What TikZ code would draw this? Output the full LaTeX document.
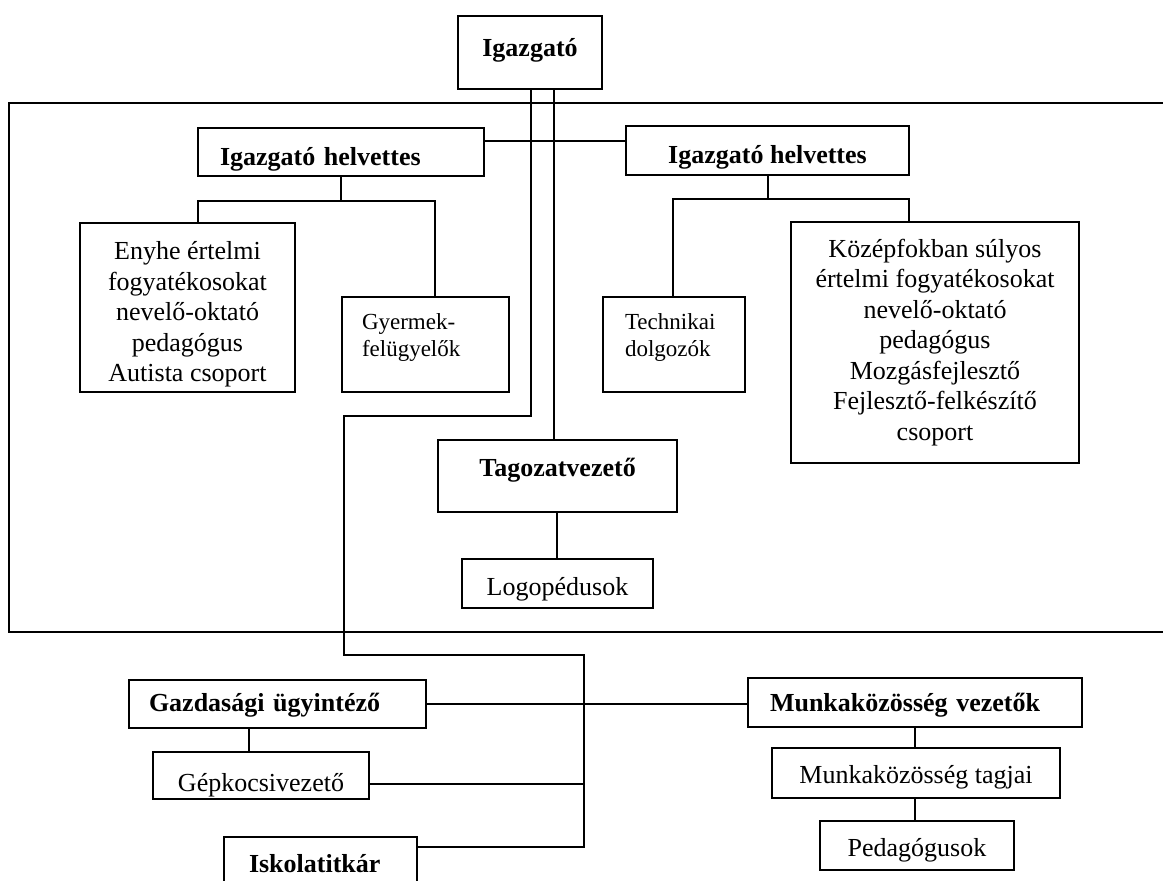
\documentclass[tikz,border=0pt]{standalone}
\usepackage{fontspec}
\setmainfont{Liberation Serif}
\begin{document}
\begin{tikzpicture}[x=1pt,y=-1pt,
  ln/.style={line width=1.4pt},
  bx/.style={draw, line width=1.4pt, inner sep=0pt, font=\fontsize{26}{30.5}\selectfont},
  bxb/.style={bx, font=\fontsize{26}{30.5}\selectfont\bfseries},
  bxs/.style={bx, font=\fontsize{23}{27}\selectfont},
]
\useasboundingbox (0,0) rectangle (1163,881);
\clip (0,0) rectangle (1163,881);

% frame
\coordinate (fa) at (9,103);
\coordinate (fb) at (1163,103);
\coordinate (fc) at (9,632);
\coordinate (fd) at (1163,632);
\draw[ln] (fb) -- (fa) -- (fc) -- (fd);

% boxes
\node[bxb, minimum width=144pt, minimum height=73pt, text height=18pt, text depth=10pt] (ig) at (530,52.5) {Igazgató};
\node[bxb, minimum width=286pt, minimum height=48pt, text width=242pt, align=left, text height=32pt, text depth=5pt] (ihl) at (341,152) {Igazgató helvettes};
\node[bxb, minimum width=283pt, minimum height=49pt, text height=31pt, text depth=5pt] (ihr) at (767.5,150.5) {Igazgató helvettes};
\node[bx, minimum width=215pt, minimum height=169pt, align=center] (enyhe) at (187.5,307.5) {\rule{0pt}{32pt}Enyhe értelmi\\fogyatékosokat\\nevelő-oktató\\pedagógus\\Autista csoport};
\node[bxs, minimum width=167pt, minimum height=95pt, text width=127pt, align=left] (gyer) at (425.5,344.5) {Gyermek-\\felügyelők\rule[-19pt]{0pt}{0pt}};
\node[bxs, minimum width=142pt, minimum height=95pt, text width=98pt, align=left] (tech) at (674,344.5) {Technikai\\dolgozók\rule[-18pt]{0pt}{0pt}};
\node[bx, minimum width=288pt, minimum height=241pt, align=center] (kozep) at (935,342.5) {Középfokban súlyos\\értelmi fogyatékosokat\\nevelő-oktató\\pedagógus\\Mozgásfejlesztő\\Fejlesztő-felkészítő\\csoport};
\node[bxb, minimum width=239pt, minimum height=72pt, text height=18pt, text depth=17pt] (tag) at (557.5,476) {Tagozatvezető};
\node[bx, minimum width=191pt, minimum height=49pt, text height=30pt, text depth=6pt] (logo) at (557.5,583.5) {Logopédusok};
\node[bxb, minimum width=297pt, minimum height=48pt, text width=257pt, align=left, text height=21pt, text depth=6pt] (gazd) at (277.5,704) {Gazdasági ügyintéző};
\node[bx, minimum width=216pt, minimum height=47pt, text height=37pt, text depth=5pt] (gep) at (261,775.5) {Gépkocsivezető};
\node[bxb, minimum width=193pt, minimum height=58pt, text width=143pt, align=left, text height=19pt, text depth=6pt] (isk) at (320.5,866) {Iskolatitkár};
\node[bxb, minimum width=334pt, minimum height=49pt, text width=290pt, align=left, text height=24pt, text depth=6pt] (mv) at (915,702.5) {Munkaközösség vezetők};
\node[bx, minimum width=288pt, minimum height=50pt, text height=27pt, text depth=6pt] (mt) at (916,773) {Munkaközösség tagjai};
\node[bx, minimum width=194pt, minimum height=49pt, text height=28pt, text depth=6pt] (ped) at (917,845.5) {Pedagógusok};

% helper coordinates
\coordinate (v1) at (531,0);
\coordinate (v2) at (554,0);
\coordinate (h1) at (0,141);
\coordinate (j1) at (344,416);
\coordinate (j2) at (584,655);
\coordinate (j3) at (584,847);
\coordinate (g1) at (0,784);
\coordinate (bl) at (198,201);
\coordinate (br) at (435,201);
\coordinate (cl) at (673,199);
\coordinate (cr) at (909,199);
\coordinate (cx) at (768,0);
\coordinate (tx) at (557,0);
\coordinate (gx) at (249,0);
\coordinate (mx) at (915,0);

% connectors
\draw[ln] (ig.south -| v1) |- (j1) |- (j2) |- (isk.east |- j3);
\draw[ln] (ig.south -| v2) -- (tag.north -| v2);
\draw[ln] (ihl.east |- h1) -- (ihr.west |- h1);

\draw[ln] (ihl.south) -- (ihl.south |- bl);
\draw[ln] (enyhe.north -| bl) -- (bl) -- (br) -- (gyer.north -| br);

\draw[ln] (ihr.south -| cx) -- (cx |- cl);
\draw[ln] (tech.north -| cl) -- (cl) -- (cr) -- (kozep.north -| cr);

\draw[ln] (tag.south -| tx) -- (logo.north -| tx);

\draw[ln] (gazd.east) -- (gazd.east -| mv.west);
\draw[ln] (gazd.south -| gx) -- (gep.north -| gx);
\draw[ln] (gep.east |- g1) -- (j2 |- g1);

\draw[ln] (mv.south -| mx) -- (mt.north -| mx);
\draw[ln] (mt.south -| mx) -- (ped.north -| mx);
\end{tikzpicture}
\end{document}
